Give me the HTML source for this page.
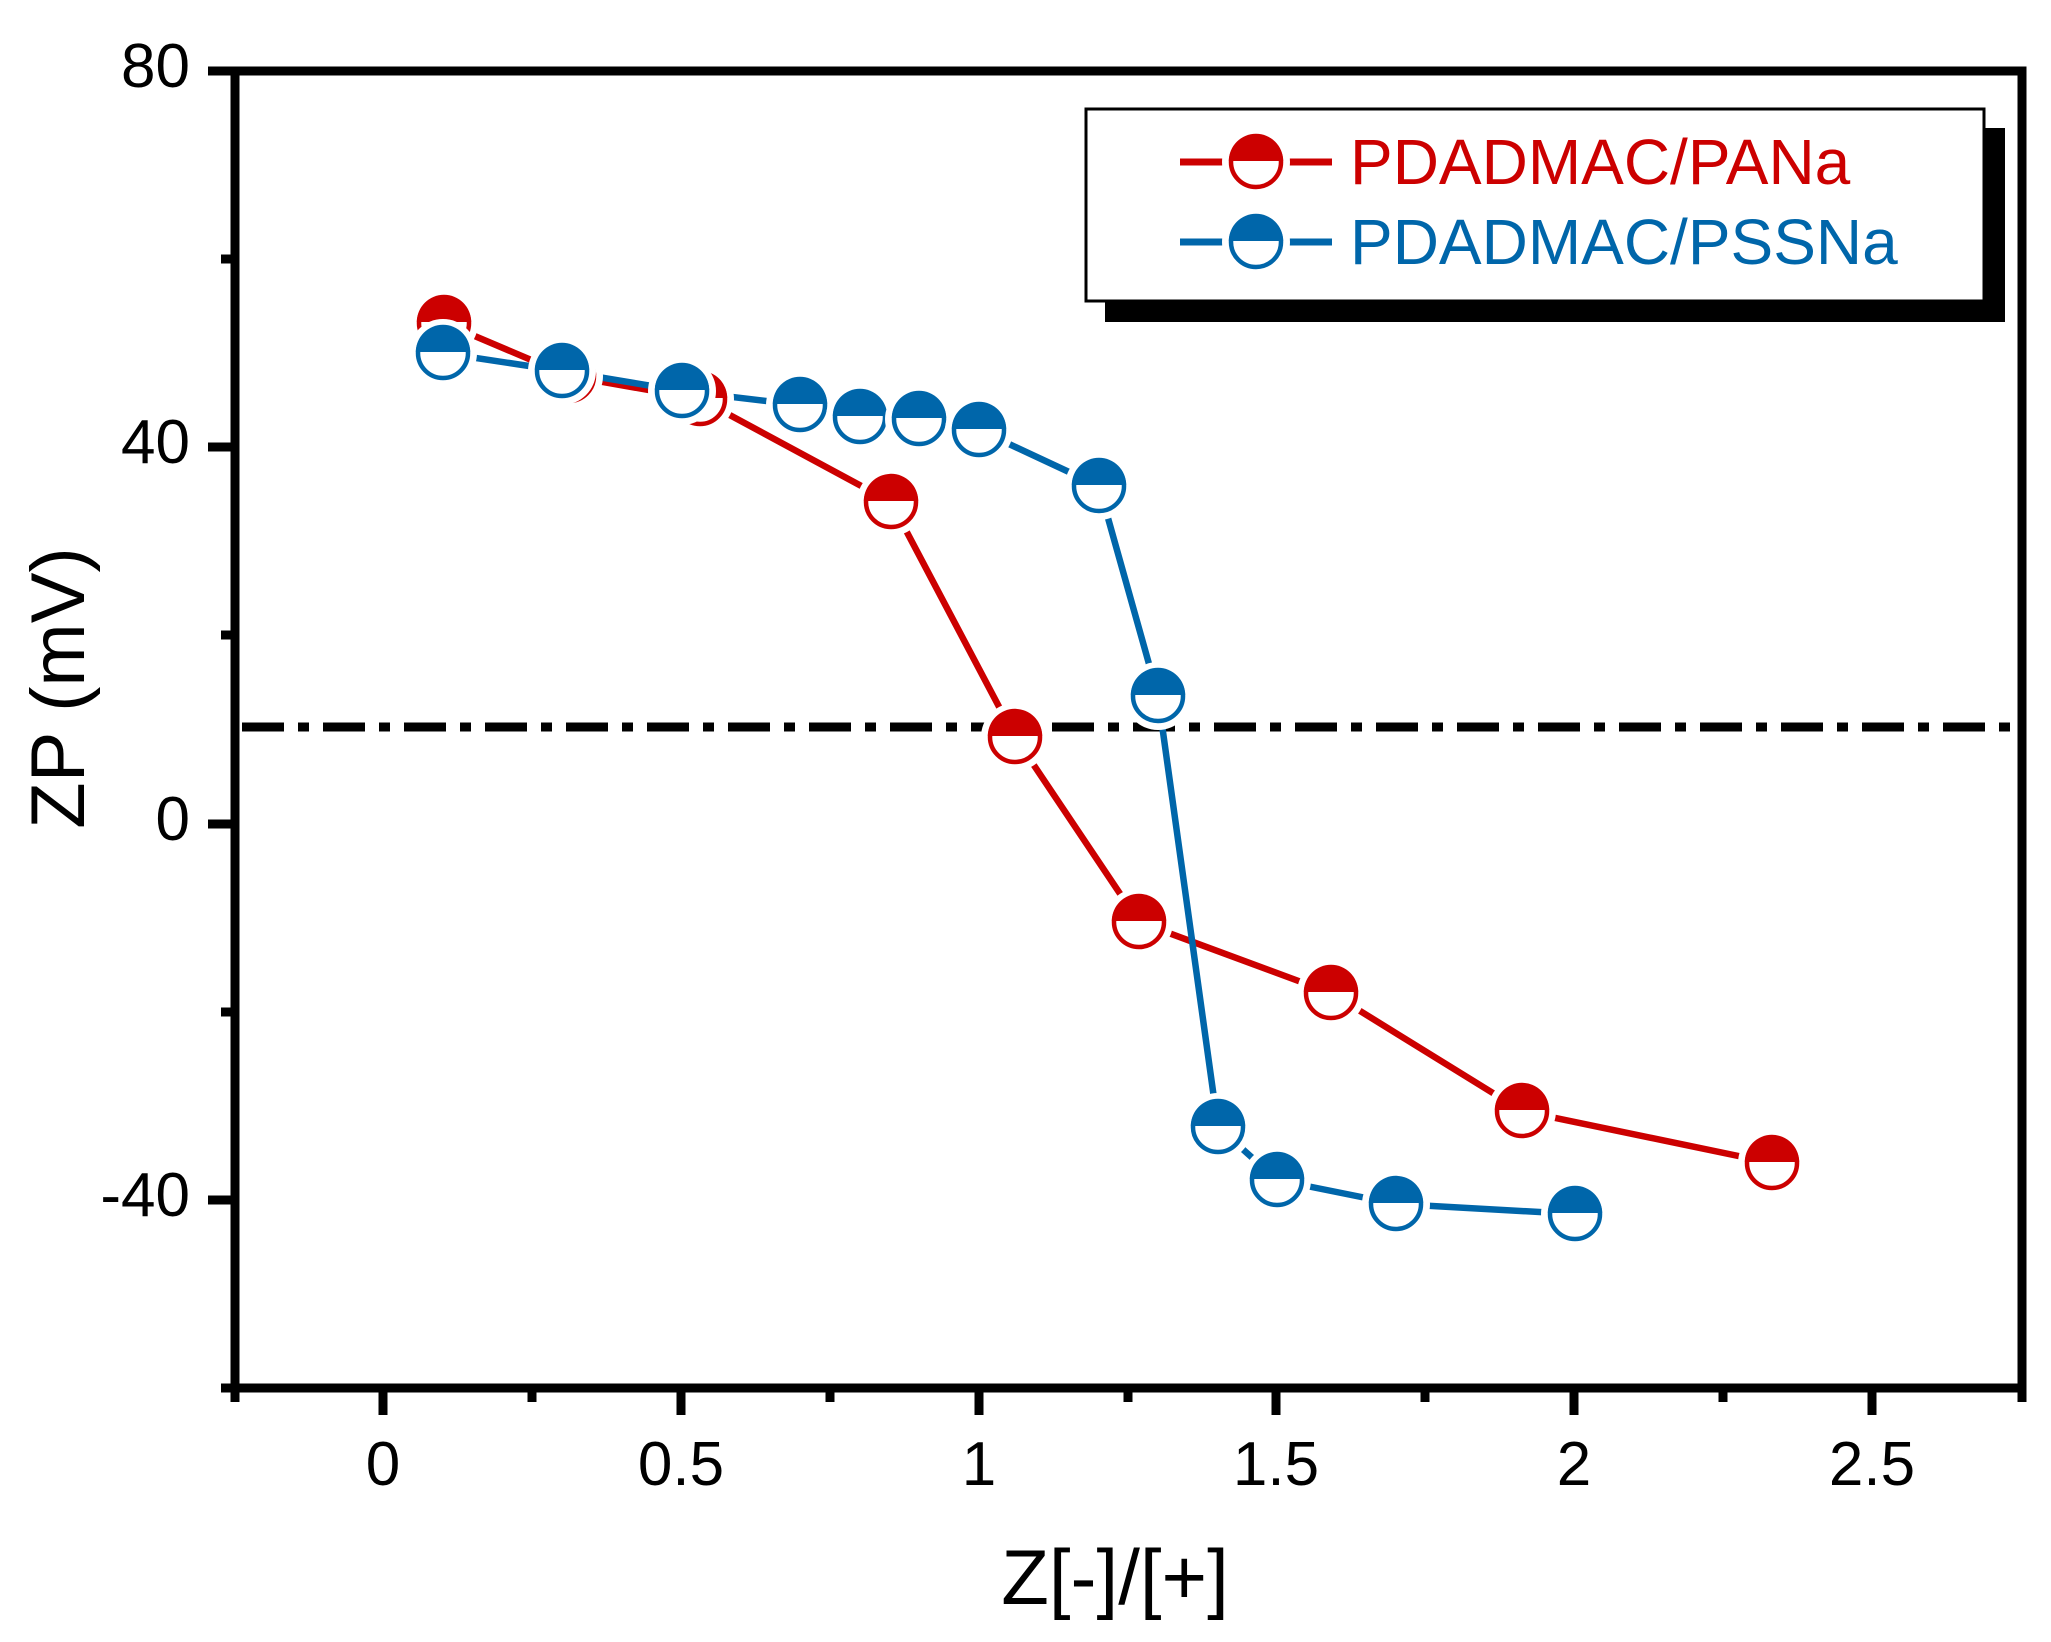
<!DOCTYPE html>
<html><head><meta charset="utf-8"><style>
html,body{margin:0;padding:0;background:#fff;}
svg{display:block;}
text{font-family:"Liberation Sans",sans-serif;}
</style></head><body>
<svg width="2051" height="1642" viewBox="0 0 2051 1642" xmlns="http://www.w3.org/2000/svg">
<defs>
<g id="mr"><circle r="34" fill="#fff"/><circle r="25" fill="#fff" stroke="#cc0000" stroke-width="4.5"/><path d="M-27.2,-1 A27.2,27.2 0 0 1 27.2,-1 Z" fill="#cc0000"/></g>
<g id="mb"><circle r="34" fill="#fff"/><circle r="25" fill="#fff" stroke="#0066aa" stroke-width="4.5"/><path d="M-27.2,-1 A27.2,27.2 0 0 1 27.2,-1 Z" fill="#0066aa"/></g>
</defs>
<line x1="242" y1="727" x2="2018" y2="727" stroke="#000" stroke-width="9" stroke-dasharray="42,14,11,14"/>
<polyline fill="none" stroke="#cc0000" stroke-width="6.5" stroke-linejoin="round" points="444,323 569,376 700,399 891,502 1015,737 1139,922 1331,993 1522,1111 1772,1163"/>
<polyline fill="none" stroke="#0066aa" stroke-width="6.5" stroke-linejoin="round" points="443,353 562,371 682,391 800,405 860,417 919,419 979,430 1099,486 1158,696 1218,1127 1277,1180 1396,1204 1575,1214"/>
<g>
<use href="#mr" x="444" y="323"/><use href="#mr" x="569" y="376"/><use href="#mr" x="700" y="399"/><use href="#mr" x="891" y="502"/><use href="#mr" x="1015" y="737"/><use href="#mr" x="1139" y="922"/><use href="#mr" x="1331" y="993"/><use href="#mr" x="1522" y="1111"/><use href="#mr" x="1772" y="1163"/>
</g>
<g>
<use href="#mb" x="443" y="353"/><use href="#mb" x="562" y="371"/><use href="#mb" x="682" y="391"/><use href="#mb" x="800" y="405"/><use href="#mb" x="860" y="417"/><use href="#mb" x="919" y="419"/><use href="#mb" x="979" y="430"/><use href="#mb" x="1099" y="486"/><use href="#mb" x="1158" y="696"/><use href="#mb" x="1218" y="1127"/><use href="#mb" x="1277" y="1180"/><use href="#mb" x="1396" y="1204"/><use href="#mb" x="1575" y="1214"/>
</g>
<rect x="235" y="71" width="1787" height="1317" fill="none" stroke="#000" stroke-width="9"/>
<g stroke="#000" stroke-width="9">
<line x1="208" y1="71" x2="235" y2="71"/><line x1="208" y1="447" x2="235" y2="447"/><line x1="208" y1="824" x2="235" y2="824"/><line x1="208" y1="1200" x2="235" y2="1200"/>
<line x1="221" y1="259" x2="235" y2="259"/><line x1="221" y1="635" x2="235" y2="635"/><line x1="221" y1="1012" x2="235" y2="1012"/><line x1="221" y1="1388" x2="235" y2="1388"/>
</g>
<g stroke="#000" stroke-width="9">
<line x1="383" y1="1388" x2="383" y2="1415"/><line x1="681" y1="1388" x2="681" y2="1415"/><line x1="979" y1="1388" x2="979" y2="1415"/><line x1="1276" y1="1388" x2="1276" y2="1415"/><line x1="1574" y1="1388" x2="1574" y2="1415"/><line x1="1872" y1="1388" x2="1872" y2="1415"/>
<line x1="235" y1="1388" x2="235" y2="1402"/><line x1="532" y1="1388" x2="532" y2="1402"/><line x1="830" y1="1388" x2="830" y2="1402"/><line x1="1128" y1="1388" x2="1128" y2="1402"/><line x1="1425" y1="1388" x2="1425" y2="1402"/><line x1="1723" y1="1388" x2="1723" y2="1402"/><line x1="2022" y1="1388" x2="2022" y2="1402"/>
</g>
<g font-size="62" text-anchor="end" fill="#000">
<text x="190" y="87">80</text><text x="190" y="463">40</text><text x="190" y="840">0</text><text x="190" y="1216">-40</text>
</g>
<g font-size="62" text-anchor="middle" fill="#000">
<text x="383" y="1485">0</text><text x="681" y="1485">0.5</text><text x="979" y="1485">1</text><text x="1276" y="1485">1.5</text><text x="1574" y="1485">2</text><text x="1872" y="1485">2.5</text>
</g>
<text x="1115" y="1604" font-size="78" text-anchor="middle" fill="#000">Z[-]/[+]</text>
<text transform="translate(84,688) rotate(-90)" font-size="76" text-anchor="middle" fill="#000">ZP (mV)</text>
<rect x="1105" y="128" width="900" height="194" fill="#000"/>
<rect x="1086" y="109" width="898" height="192" fill="#fff" stroke="#000" stroke-width="3"/>
<line x1="1180" y1="162" x2="1332" y2="162" stroke="#cc0000" stroke-width="7"/>
<line x1="1180" y1="242" x2="1332" y2="242" stroke="#0066aa" stroke-width="7"/>
<use href="#mr" x="1256" y="162"/>
<use href="#mb" x="1256" y="242"/>
<text x="1350" y="184" font-size="64" fill="#cc0000">PDADMAC/PANa</text>
<text x="1350" y="264" font-size="64" fill="#0066aa">PDADMAC/PSSNa</text>
</svg>
</body></html>
